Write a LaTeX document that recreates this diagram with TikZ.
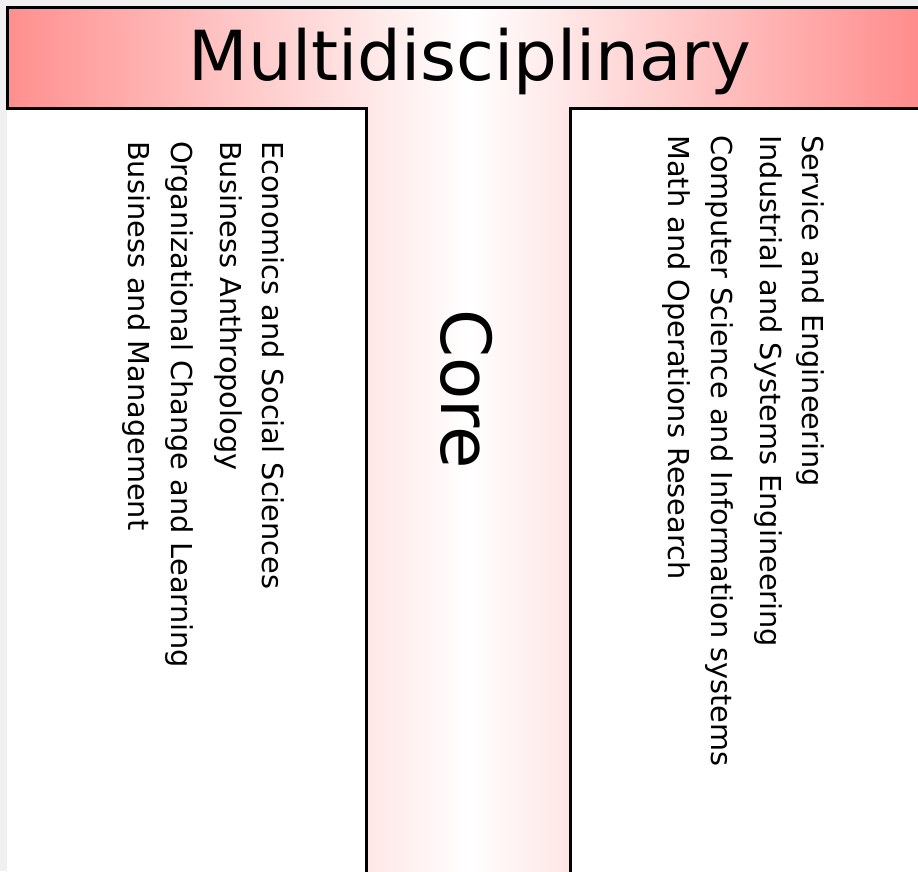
\documentclass[tikz,border=0pt]{standalone}
\usepackage{fontspec}
\setmainfont{DejaVu Sans}

\tikzset{
  tshape/.style={draw=black,line width=3pt,left color=red!44,right color=red!46,middle color=white},
  bigtext/.style={font=\fontsize{69}{80}\selectfont,inner sep=0pt},
  field/.style={font=\fontsize{28.8}{32}\selectfont,rotate=-90,anchor=base west,inner sep=0pt}
}

\begin{document}
\begin{tikzpicture}[x=1pt,y=-1pt]
  % Frame
  \useasboundingbox (0,0) rectangle (918,871);
  \clip (0,0) rectangle (918,871);
  \fill[gray!12] (0,0) rectangle (918,871);
  \fill[white] (7,7) rectangle (918,871);

  % The T
  \path[tshape] (7,108) -- (7,7) -- (930,7) -- (930,108) -- (570,108)
    -- (570,890) -- (366,890) -- (366,108) -- cycle;

  \node[bigtext,anchor=base] (multi) at (470,80) {Multidisciplinary};
  \node[bigtext,rotate=-90,anchor=base] (core) at (441,389) {Core};

  % Left fields
  \node[field] (econ) at (262,141) {Economics and Social Sciences};
  \node[field] (anthro) at (220,141) {Business Anthropology};
  \node[field] (orgch) at (171,141) {Organizational Change and Learning};
  \node[field] (busman) at (128,141) {Business and Management};

  % Right fields
  \node[field] (service) at (802,135) {Service and Engineering};
  \node[field] (indsys) at (760,135) {Industrial and Systems Engineering};
  \node[field] (compsci) at (711,135) {Computer Science and Information systems};
  \node[field] (mathor) at (668,135) {Math and Operations Research};
\end{tikzpicture}
\end{document}
